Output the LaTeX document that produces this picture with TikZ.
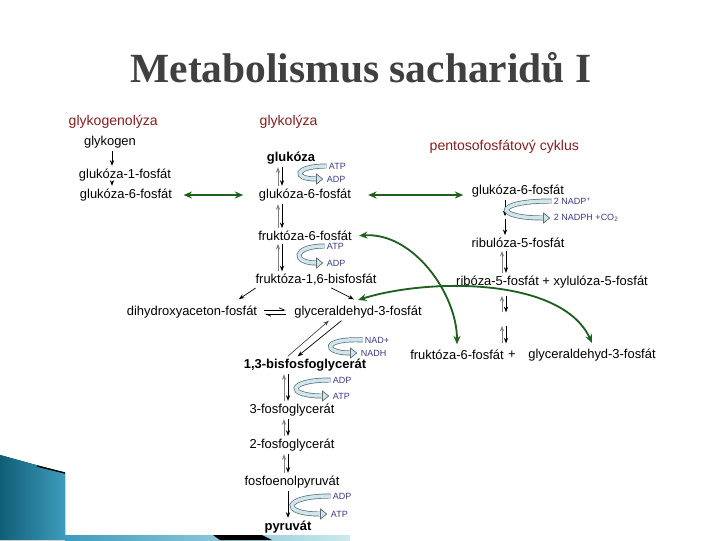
\documentclass[tikz,border=0pt]{standalone}
\usepackage{fontspec}
\setmainfont{Liberation Sans}
\newfontfamily\titlefont{Liberation Serif}
\usetikzlibrary{arrows.meta,calc}

\definecolor{hdrred}{HTML}{8B1E1E}
\definecolor{cofblue}{HTML}{3B3B8C}
\definecolor{pathgreen}{HTML}{1F5F1F}
\definecolor{cycfill}{HTML}{CFE6EC}
\definecolor{cycedge}{HTML}{5A6E74}
\definecolor{titlegray}{HTML}{404040}
\definecolor{tealdark}{HTML}{0F5E77}
\definecolor{teallight}{HTML}{3E9CBC}
\definecolor{tealpale}{HTML}{CDE9EE}

\begin{document}
\begin{tikzpicture}[x=0.025cm,y=-0.025cm,
    met/.style={inner sep=1pt,font=\fontsize{9.2}{10}\selectfont},
    metb/.style={inner sep=1pt,font=\fontsize{9.2}{10}\selectfont\bfseries},
    hdr/.style={inner sep=1pt,anchor=west,text=hdrred,font=\fontsize{10}{11}\selectfont},
    cof/.style={inner sep=0.5pt,anchor=west,text=cofblue,font=\fontsize{6.4}{7}\selectfont},
    rx/.style={-{Stealth[length=4pt,width=3pt]},line width=0.5pt,shorten <=1pt,shorten >=1pt},
    hp/.style={-{Straight Barb[left,length=3.5pt,width=3pt]},line width=0.5pt},
    grn/.style={{Stealth[length=6pt,width=5pt]}-{Stealth[length=6pt,width=5pt]},pathgreen,line width=1.3pt},
    cyc/.style={draw=cycedge,double=cycfill,double distance=2.5pt,line width=0.5pt,
      shorten <=1pt,shorten >=2pt,-{Triangle[length=5pt,width=8pt,fill=cycfill]}}
  ]
  \useasboundingbox[fill=white] (0,0) rectangle (720,540);

  % slide decoration
  \fill[left color=tealdark,right color=teallight] (0,455) -- (65,473) -- (65,540) -- (0,540) -- cycle;
  \draw[line width=1pt] (37,466) -- (65,473);
  \fill[left color=teallight,right color=tealpale] (65,535) rectangle (350,540);
  \fill[black] (213,535) -- (262,535) -- (272,540) -- (220,540) -- cycle;

  % title
  \node[anchor=base,text=titlegray,font=\titlefont\fontsize{29.5}{32}\selectfont\bfseries] (title) at (361,82) {Metabolismus sacharidů I};

  % headings
  \node[hdr] (hglgn) at (67,122) {glykogenolýza};
  \node[hdr] (hglyk) at (258,122) {glykolýza};
  \node[hdr] (hppc) at (428,147) {pentosofosfátový cyklus};

  % glykogenolyza
  \node[met] (glykogen) at (110,142) {glykogen};
  \node[met] (g1p) at (125,175) {glukóza-1-fosfát};
  \node[met] (g6pA) at (126,195) {glukóza-6-fosfát};
  \draw[rx] (112,0 |- glykogen.south) -- (112,0 |- g1p.north);
  \draw[rx] (112,0 |- g1p.south) -- (112,0 |- g6pA.north);

  % glykolyza
  \node[metb] (glc) at (291,158) {glukóza};
  \node[cof] (atp1) at (328,166) {ATP};
  \node[cof] (adp1) at (326,179) {ADP};
  \node[met] (g6pB) at (305,195) {glukóza-6-fosfát};
  \node[met] (f6p) at (305,236) {fruktóza-6-fosfát};
  \node[cof] (atp2) at (326,246) {ATP};
  \node[cof] (adp2) at (326,263) {ADP};
  \node[met] (fbp) at (316,280) {fruktóza-1,6-bisfosfát};
  \node[met] (dhap) at (192,312) {dihydroxyaceton-fosfát};
  \node[met] (gap) at (358,312) {glyceraldehyd-3-fosfát};
  \node[cof] (nad) at (364,340) {NAD+};
  \node[cof] (nadh) at (360,353) {NADH};
  \node[metb] (bpg) at (305,365) {1,3-bisfosfoglycerát};
  \node[cof] (adp3) at (332,380) {ADP};
  \node[cof] (atp3) at (332,396) {ATP};
  \node[met] (pg3) at (292,410) {3-fosfoglycerát};
  \node[met] (pg2) at (292,445) {2-fosfoglycerát};
  \node[met] (pep) at (292,482) {fosfoenolpyruvát};
  \node[cof] (adp4) at (332,496) {ADP};
  \node[cof] (atp4) at (330,514) {ATP};
  \node[metb] (pyr) at (288,527) {pyruvát};

  \draw[rx,gray] (278,0 |- g6pB.north) -- (278,0 |- glc.south);
  \draw[rx] (282,0 |- glc.south) -- (282,0 |- g6pB.north);
  \draw[rx,gray] (278,0 |- f6p.north) -- (278,0 |- g6pB.south);
  \draw[rx] (282,0 |- g6pB.south) -- (282,0 |- f6p.north);
  \draw[rx,gray] (278,0 |- fbp.north) -- (278,0 |- f6p.south);
  \draw[rx] (282,0 |- f6p.south) -- (282,0 |- fbp.north);
  \draw[rx] ([xshift=2pt]fbp.south west) -- ([xshift=-15pt,yshift=3pt]dhap.north east);
  \draw[rx] ([xshift=10pt]fbp.south) -- ([xshift=-2pt,yshift=3pt]gap.north);
  \draw[hp] ([xshift=4pt,yshift=1.5pt]dhap.east) -- ([xshift=-5pt,yshift=1.5pt]gap.west);
  \draw[hp] ([xshift=-5pt,yshift=-1.5pt]gap.west) -- ([xshift=4pt,yshift=-1.5pt]dhap.east);
  \draw[rx,gray!60!black] ([xshift=-13pt]bpg.north) -- ([xshift=-20pt]gap.south);
  \draw[rx] ([xshift=-11pt]gap.south) -- ([xshift=-6pt]bpg.north);
  \draw[rx,gray] (284,0 |- pg3.north) -- (284,0 |- bpg.south);
  \draw[rx] (288,0 |- bpg.south) -- (288,0 |- pg3.north);
  \draw[rx,gray] (284,0 |- pg2.north) -- (284,0 |- pg3.south);
  \draw[rx] (288,0 |- pg3.south) -- (288,0 |- pg2.north);
  \draw[rx,gray] (284,0 |- pep.north) -- (284,0 |- pg2.south);
  \draw[rx] (288,0 |- pg2.south) -- (288,0 |- pep.north);
  \draw[rx] (288,0 |- pep.south) -- (288,0 |- pyr.north);

  \draw[cyc] (atp1.west) .. controls +(-34,0) and +(-34,0) .. (adp1.west);
  \draw[cyc] (atp2.west) .. controls +(-34,0) and +(-34,0) .. (adp2.west);
  \draw[cyc] (nad.west) .. controls +(-42,-2) and +(-38,0) .. (nadh.west);
  \draw[cyc] (adp3.west) .. controls +(-46,0) and +(-46,0) .. (atp3.west);
  \draw[cyc] (adp4.west) .. controls +(-50,0) and +(-50,0) .. (atp4.west);

  % pentosofosfatovy cyklus
  \node[met] (g6pC) at (518,191) {glukóza-6-fosfát};
  \node[cof] (nadp) at (553,201) {2 NADP\textsuperscript{+}};
  \node[cof] (nadph) at (553,218) {2 NADPH +CO\textsubscript{2}};
  \node[met] (ru5p) at (518,243) {ribulóza-5-fosfát};
  \node[met] (r5px5p) at (552,282) {ribóza-5-fosfát + xylulóza-5-fosfát};
  \node[met] (f6pD) at (457,355) {fruktóza-6-fosfát};
  \node[met] (plus) at (512,355) {+};
  \node[met] (gapD) at (592,355) {glyceraldehyd-3-fosfát};
  \coordinate (g6pCmid) at ($(g6pC.south)!0.5!(ru5p.north)$);
  \coordinate (pairAt) at ($(r5px5p.south)!0.08!(plus.north)$);
  \coordinate (pairAb) at ($(r5px5p.south)!0.40!(plus.north)$);
  \coordinate (pairBt) at ($(r5px5p.south)!0.58!(plus.north)$);
  \coordinate (pairBb) at ($(r5px5p.south)!0.92!(plus.north)$);

  \draw[rx] (505,0 |- g6pC.south) -- (505,0 |- g6pCmid);
  \draw[rx] (505,0 |- g6pCmid) -- (505,0 |- ru5p.north);
  \draw[cyc] (nadp.west) .. controls +(-60,0) and +(-60,0) .. (nadph.west);
  \draw[rx,gray] (502,0 |- r5px5p.north) -- (502,0 |- ru5p.south);
  \draw[rx] (506,0 |- ru5p.south) -- (506,0 |- r5px5p.north);
  \draw[rx,gray] (502,0 |- pairAb) -- (502,0 |- pairAt);
  \draw[rx] (506,0 |- pairAt) -- (506,0 |- pairAb);
  \draw[rx,gray] (502,0 |- pairBb) -- (502,0 |- pairBt);
  \draw[rx] (506,0 |- pairBt) -- (506,0 |- pairBb);

  % green links
  \draw[grn,shorten <=7pt,shorten >=10pt] (g6pA.east) -- (g6pB.west);
  \draw[grn,shorten <=11pt,shorten >=5pt] (g6pB.east) -- (g6pC.west |- g6pB.east);
  \draw[grn,shorten <=4pt] (f6p.east) .. controls +(60,-4) and +(0,-50) .. ([yshift=3pt]f6pD.north);
  \draw[grn] ([yshift=3pt]gap.north) .. controls +(70,-22) and +(-30,-66) .. ([yshift=3pt]gapD.north);
\end{tikzpicture}
\end{document}
